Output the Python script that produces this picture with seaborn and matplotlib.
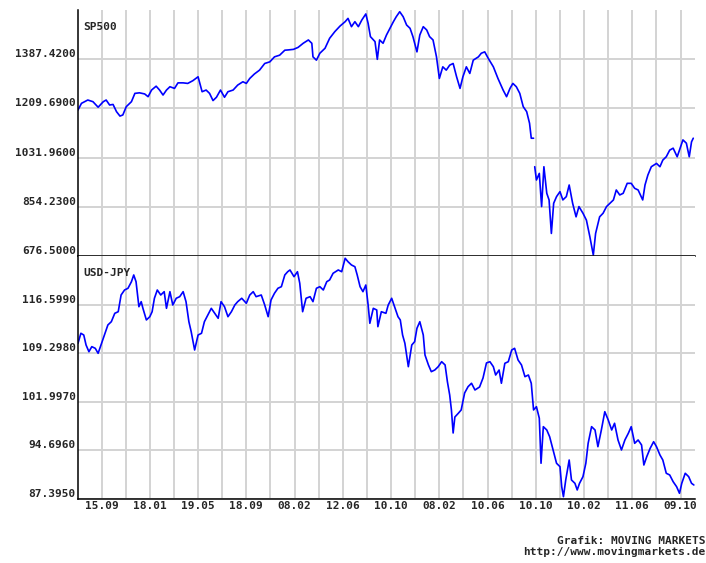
import numpy as np
import pandas as pd
import matplotlib
matplotlib.use("Agg")
import matplotlib.pyplot as plt
import seaborn as sns

# trading-day index and closing values
sp_days = [0, 6, 17, 26, 35, 44, 49, 55, 61, 67, 73, 78, 84, 93, 99, 107, 116, 122, 128, 136,
           142, 148, 154, 160, 168, 174, 183, 191, 200, 209, 216, 223, 229, 235, 241, 248, 255, 261, 270, 278,
           287, 293, 299, 307, 316, 325, 334, 342, 351, 360, 366, 375, 383, 392, 401, 407, 409, 415, 421, 430,
           438, 447, 456, 465, 470, 476, 482, 488, 494, 501, 505, 509, 517, 521, 525, 531, 537, 543, 549, 554,
           560, 566, 572, 578, 583, 590, 595, 601, 607, 612, 618, 624, 629, 635, 641, 647, 653, 659, 665, 670,
           676, 682, 688, 697, 702, 708, 714, 723, 731, 740, 746, 752, 757, 763, 769, 775, 781, 786, 789, 793,
           795, 798, 803, 807, 811, 816, 820, 824, 828, 833, 839, 844, 850, 855, 861, 867, 872, 879, 885, 891,
           897, 901, 908, 914, 920, 926, 932, 937, 943, 949, 956, 963, 969, 975, 983, 987, 992, 998, 1007, 1013,
           1018, 1024, 1030, 1036, 1043, 1047, 1053, 1059, 1064, 1068, 1071]
sp_close = [1204, 1228, 1240, 1234, 1214, 1234, 1240, 1222, 1224, 1198, 1182, 1186, 1216, 1234, 1264, 1266, 1262, 1252, 1276, 1290,
            1276, 1258, 1276, 1288, 1282, 1302, 1302, 1300, 1310, 1324, 1270, 1276, 1264, 1238, 1250, 1276, 1250, 1270, 1276, 1294,
            1306, 1300, 1318, 1334, 1348, 1372, 1378, 1396, 1402, 1420, 1421, 1423, 1430, 1445, 1457, 1445, 1396, 1384, 1409, 1427,
            1463, 1487, 1507, 1523, 1535, 1505, 1523, 1505, 1529, 1551, 1517, 1469, 1451, 1387, 1457, 1445, 1475, 1499, 1523, 1541,
            1559, 1541, 1511, 1499, 1469, 1414, 1475, 1505, 1493, 1469, 1457, 1396, 1318, 1360, 1348, 1366, 1372, 1324, 1282, 1324,
            1360, 1336, 1384, 1396, 1409, 1414, 1391, 1360, 1318, 1276, 1252, 1282, 1300, 1288, 1264, 1216, 1198, 1156, 1102, 1102,
            999, 951, 975, 855, 999, 903, 879, 758, 867, 891, 909, 879, 891, 933, 867, 818, 855, 831, 806, 746,
            680, 758, 818, 831, 855, 867, 879, 915, 897, 903, 939, 939, 921, 915, 879, 933, 969, 999, 1011, 999,
            1023, 1035, 1059, 1066, 1035, 1059, 1096, 1084, 1035, 1089, 1102]
sp_gap_after = 793  # no quotes drawn between these two days

jpy_days = [0, 5, 10, 14, 19, 24, 30, 35, 41, 46, 52, 58, 64, 70, 75, 81, 87, 93, 97, 101,
            106, 110, 113, 119, 125, 129, 133, 138, 144, 150, 154, 160, 165, 171, 177, 183, 188, 193, 197, 203,
            209, 215, 220, 226, 232, 238, 244, 249, 255, 261, 267, 273, 278, 285, 293, 299, 305, 310, 319, 325,
            331, 336, 342, 348, 354, 360, 365, 369, 376, 382, 386, 391, 397, 404, 409, 415, 421, 427, 433, 438,
            444, 453, 459, 465, 470, 476, 482, 486, 491, 496, 501, 505, 508, 514, 520, 522, 528, 536, 540, 546,
            552, 557, 561, 565, 569, 575, 581, 586, 590, 595, 601, 604, 610, 615, 621, 627, 633, 639, 643, 647,
            650, 653, 656, 662, 667, 673, 679, 685, 691, 699, 705, 711, 717, 723, 727, 733, 737, 743, 749, 755,
            760, 766, 772, 778, 784, 789, 793, 798, 803, 806, 810, 816, 821, 827, 833, 839, 842, 845, 849, 855,
            859, 865, 869, 873, 879, 884, 888, 894, 900, 905, 911, 917, 923, 929, 934, 940, 946, 952, 958, 963,
            969, 975, 981, 985, 990, 996, 1002, 1007, 1013, 1018, 1024, 1030, 1036, 1042, 1047, 1051, 1057, 1063, 1068, 1072]
jpy_rate = [110.79, 112.29, 112.03, 110.53, 109.52, 110.28, 110.03, 109.28, 110.79, 112.03, 113.54, 114.03, 115.29, 115.53, 118.04, 118.79, 119.05, 120.04, 121.05, 120.04,
            116.28, 117.04, 116.04, 114.29, 114.78, 115.53, 117.55, 118.79, 118.04, 118.54, 116.04, 118.54, 116.54, 117.55, 117.79, 118.54, 117.04, 114.03, 112.53, 109.78,
            112.03, 112.29, 114.03, 115.04, 116.04, 115.29, 114.54, 117.04, 116.28, 114.78, 115.53, 116.54, 117.04, 117.55, 116.79, 118.04, 118.54, 117.79, 118.04, 116.54,
            114.78, 117.29, 118.30, 119.05, 119.29, 121.05, 121.54, 121.80, 120.79, 121.54, 119.80, 115.53, 117.55, 117.79, 117.04, 119.05, 119.29, 118.79, 120.04, 120.30,
            121.30, 121.80, 121.54, 123.56, 123.04, 122.55, 122.29, 121.05, 119.29, 118.54, 119.54, 116.54, 113.79, 116.04, 115.79, 113.28, 115.53, 115.29, 116.54, 117.55,
            116.04, 114.78, 114.29, 112.03, 110.79, 107.27, 110.53, 111.03, 113.04, 114.03, 112.03, 109.03, 107.53, 106.52, 106.77, 107.27, 108.02, 107.53, 105.02, 103.02,
            100.77, 97.31, 99.71, 100.27, 100.77, 103.32, 104.27, 104.78, 103.77, 104.22, 105.57, 107.83, 108.02, 107.27, 106.02, 106.77, 104.78, 107.78, 108.02, 109.78,
            110.03, 108.28, 107.53, 105.77, 106.02, 104.78, 100.77, 101.26, 99.52, 92.76, 98.26, 97.76, 96.75, 94.76, 92.76, 92.25, 89.24, 87.74, 90.25, 93.25,
            90.25, 89.75, 88.75, 89.75, 90.75, 92.76, 95.76, 98.26, 97.76, 95.25, 97.76, 100.51, 99.26, 97.76, 98.77, 96.26, 94.76, 96.26, 97.27, 98.26,
            95.76, 96.26, 95.51, 92.50, 93.75, 95.01, 96.00, 95.25, 94.01, 93.25, 91.26, 91.00, 89.99, 89.24, 88.25, 89.75, 91.26, 90.75, 89.75, 89.50]

# axis scales
sp_ticks = [676.5, 854.23, 1031.96, 1209.69, 1387.42]
sp_top = 1565.15
jpy_ticks = [87.395, 94.696, 101.997, 109.298, 116.599]
jpy_top = 123.9

date_labels = ["15.09", "18.01", "19.05", "18.09", "08.02", "12.06", "10.10",
               "08.02", "10.06", "10.10", "10.02", "11.06", "09.10"]
first_label_day = 41
grid_step = 42   # vertical gridline every 42 trading days, label on every other
last_day = 1074

sp = pd.DataFrame({"day": sp_days, "close": sp_close})
sp["segment"] = (sp["day"] > sp_gap_after).astype(int)
jpy = pd.DataFrame({"day": jpy_days, "rate": jpy_rate})

sns.set_style("white")
plt.rcParams["font.family"] = ["DejaVu Sans Mono"]
plt.rcParams["font.weight"] = "bold"

fig = plt.figure(figsize=(7.06, 5.63), dpi=100)
ax1 = fig.add_axes([0.1105, 0.5453, 0.8739, 0.4369])
ax2 = fig.add_axes([0.1105, 0.1137, 0.8739, 0.4316])

sns.lineplot(data=sp, x="day", y="close", units="segment", estimator=None,
             color="#0000ff", linewidth=1.2, ax=ax1)
sns.lineplot(data=jpy, x="day", y="rate", color="#0000ff", linewidth=1.2, ax=ax2)

label_days = [first_label_day + 2 * grid_step * i for i in range(len(date_labels))]
minor_days = [d + grid_step for d in label_days[:-1]]

for ax, ticks, top in [(ax1, sp_ticks, sp_top), (ax2, jpy_ticks, jpy_top)]:
    ax.set_xlim(0, last_day)
    ax.set_ylim(ticks[0], top)
    ax.set_yticks(ticks)
    ax.set_yticklabels(["%.4f" % t for t in ticks], fontsize=8)
    for lab in ax.get_yticklabels():
        lab.set_va("bottom")
    ax.set_xticks(label_days)
    ax.set_xticks(minor_days, minor=True)
    ax.grid(True, which="both", axis="x", color="#d3d3d3", linewidth=1.4)
    ax.grid(True, which="major", axis="y", color="#d3d3d3", linewidth=1.4)
    ax.set_axisbelow(True)
    ax.tick_params(length=0, which="both", pad=1.5)
    ax.set_xlabel("")
    ax.set_ylabel("")
    for side in ["top", "right"]:
        ax.spines[side].set_visible(False)
    for side in ["left", "bottom"]:
        ax.spines[side].set_color("black")
        ax.spines[side].set_linewidth(1.1)

ax1.set_xticklabels([])
ax2.set_xticklabels(date_labels, fontsize=8)

ax1.annotate("SP500", xy=(0, 1), xycoords="axes fraction", xytext=(5, -12),
             textcoords="offset pixels", va="top", fontsize=8)
ax2.annotate("USD-JPY", xy=(0, 1), xycoords="axes fraction", xytext=(5, -12),
             textcoords="offset pixels", va="top", fontsize=8)

fig.text(0.999, 1 - 541 / 563, "Grafik: MOVING MARKETS", ha="right", va="center", fontsize=8)
fig.text(0.999, 1 - 552 / 563, "http://www.movingmarkets.de", ha="right", va="center", fontsize=8)

fig.savefig("out.png", dpi=100)
